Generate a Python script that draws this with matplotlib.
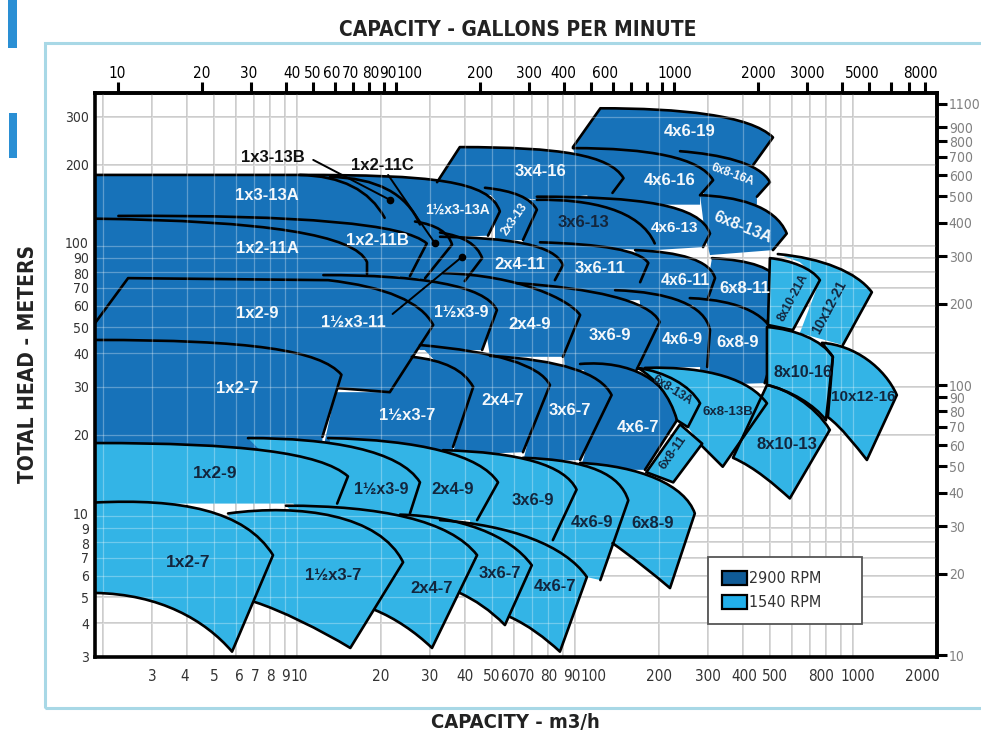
import matplotlib
matplotlib.use("Agg")
import matplotlib.pyplot as plt
from matplotlib.path import Path
from matplotlib.patches import PathPatch, Rectangle, Patch
from matplotlib.ticker import NullLocator

NARROW = ['DejaVu Sans']
BOLD = ['Liberation Sans', 'DejaVu Sans']
plt.rcParams['font.family'] = NARROW
plt.rcParams['font.stretch'] = 'condensed'

# ---------------- axis data ----------------
X_LIM = (1.87, 2000)      # m3/h
Y_LIM = (3, 368)          # metres
GPM_PER_M3H = 4.403
FT_PER_M = 3.281

BOTTOM_TICKS = [3, 4, 5, 6, 7, 8, 9, 10, 20, 30, 40, 50, 60, 70, 80, 90, 100,
                200, 300, 400, 500, 800, 1000, 2000]
LEFT_TICKS = [3, 4, 5, 6, 7, 8, 9, 10, 20, 30, 40, 50, 60, 70, 80, 90, 100, 200, 300]
TOP_TICKS = [10, 20, 30, 40, 50, 60, 70, 80, 90, 100, 200, 300, 400, 500, 600, 700,
             800, 900, 1000, 2000, 3000, 4000, 5000, 6000, 7000, 8000]
TOP_LABELS = ['10', '20', '30', '40', '50', '60', '70', '80', '90', '100', '200', '300',
              '400', '', '600', '', '', '', '1000', '2000', '3000', '', '5000', '', '', '8000']
RIGHT_TICKS = [10, 20, 30, 40, 50, 60, 70, 80, 90, 100, 200, 300, 400, 500, 600, 700,
               800, 900, 1100]
RIGHT_LABELS = [str(v) for v in RIGHT_TICKS]
GRID_Q = [2, 3, 4, 5, 6, 7, 8, 9, 10, 20, 30, 40, 50, 60, 70, 80, 90, 100, 200, 300,
          400, 500, 600, 700, 800, 900, 1000]
GRID_H = [4, 5, 6, 7, 8, 9, 10, 20, 30, 40, 50, 60, 70, 80, 90, 100, 200, 300]

# label nudges (pixels) so crowded condensed labels sit as in the printed chart
BOTTOM_DX = [0, -2, 1, 4, 1, 0, 1, 2, 0, 0, 0, 0, -4, -6, 0, 9, 18, 0, 0, 2, 5, -5, 4, -15]
TOP_DX = [-1, 0, -2, 6, 0, -3, -3, 1, 4, 13, 0, 0, 0, 0, -8, 0, 0, 0, 0, 0, 0, 0, -6, 0, 0, -5]
LEFT_DY = [0, 0, 0, 0, 0, -1.5, -0.5, 2.5, 0, 0, 0, 0, 0, 0, -1.5, 0.5, 3, 0, 0]

# ---------------- 2900 RPM regions (m3/h, m) ----------------
DARK_NAMES = ['4x6-19', '3x4-16', '4x6-16', '6x8-16A', '1x3-13A', '1½x3-13A', '1x3-13B',
              '2x3-13', '3x6-13', '4x6-13', '6x8-13A', '1x2-11A', '1x2-11B', '1x2-11C',
              '1½x3-11', '2x4-11', '3x6-11', '4x6-11', '6x8-11', '1x2-9', '1½x3-9',
              '2x4-9', '3x6-9', '4x6-9', '6x8-9', '1x2-7', '1½x3-7', '2x4-7', '3x6-7', '4x6-7']
DARK_OUTLINES = [
    [('M', 98.0, 232), ('L', 123, 323), ('C', 238, 323, 425, 305, 514, 252), ('L', 436, 199)],
    [('M', 31.8, 172), ('L', 38.4, 232), ('C', 88.0, 232, 133, 217, 149, 178), ('L', 136, 157)],
    [('M', 98.0, 230), ('C', 185, 230, 281, 212, 313, 175), ('L', 281, 154)],
    [('M', 238, 224), ('C', 331, 218, 461, 203, 501, 172), ('L', 450, 152)],
    [('M', 1.87, 183), ('L', 10.2, 183), ('Q', 17.1, 181, 20.6, 127)],
    [('M', 10.2, 183), ('C', 30.0, 183, 49.3, 175, 53.5, 134), ('L', 48.5, 109)],
    [('M', 13.1, 180), ('Q', 23.4, 178, 27.6, 120)],
    [('M', 47.3, 164), ('Q', 67.5, 158, 72.7, 136), ('L', 64.8, 105)],
    [('M', 72.7, 148), ('C', 113, 149, 171, 136, 193, 102)],
    [('M', 72.7, 152), ('C', 171, 152, 281, 142, 305, 111), ('L', 288, 98.9)],
    [('M', 281, 154), ('C', 375, 152, 522, 142, 576, 111), ('L', 514, 96.4)],
    [('M', 1.87, 126), ('Q', 15.5, 123, 17.8, 87.0), ('L', 17.8, 78.6)],
    [('M', 2.27, 129), ('Q', 22.4, 131, 29.2, 102), ('L', 25.4, 77.2)],
    [('M', 26.5, 123), ('Q', 34.5, 118, 36.0, 101), ('L', 28.8, 75.9)],
    [('M', 32.6, 112), ('Q', 43.6, 107, 46.2, 90.0), ('L', 40.0, 74.0)],
    [('M', 32.6, 108), ('C', 58.2, 107, 84.4, 101, 90.2, 84.8), ('L', 84.4, 74.6)],
    [('M', 74.6, 103), ('C', 123, 101.5, 171, 96.4, 183, 86.3), ('L', 171, 73.3)],
    [('M', 164, 96.4), ('C', 238, 94.8, 305, 88.5, 318, 75.9), ('L', 300, 64.0)],
    [('M', 310, 90.0), ('C', 425, 88.5, 522, 82.7, 544, 72.7), ('L', 489, 51.8)],
    [('M', 1.87, 51.7), ('L', 2.46, 75.9), ('L', 12.9, 74.6), ('Q', 26.5, 68.5, 30.8, 50.9),
     ('L', 21.5, 28.7), ('L', 14.0, 29.7)],
    [('M', 12.4, 77.9), ('C', 27.6, 77.9, 47.3, 71.5, 52.2, 57.8), ('L', 46.2, 41.1)],
    [('M', 33.4, 79.2), ('C', 63.2, 77.9, 95.6, 62.9, 104, 55.4), ('L', 90.2, 38.8)],
    [('M', 61.7, 72.7), ('C', 113, 69.7, 185, 62.9, 201, 52.2), ('L', 166, 34.7)],
    [('M', 139, 68.5), ('C', 219, 67.3, 293, 60.3, 305, 48.7), ('L', 298, 35.6)],
    [('M', 258, 64.0), ('C', 391, 62.9, 509, 55.4, 531, 43.7), ('L', 480, 31.0)],
    [('M', 1.87, 44.8), ('C', 6.75, 44.8, 12.1, 41.1, 14.4, 33.3), ('L', 12.3, 19.6)],
    [('M', 25.8, 38.8), ('Q', 38.4, 37.2, 42.9, 30.0), ('L', 36.3, 18.0)],
    [('M', 27.6, 42.9), ('Q', 71.5, 39.4, 81.0, 30.5), ('L', 64.8, 17.2)],
    [('M', 49.3, 39.1), ('Q', 118, 37.2, 135, 28.0), ('L', 104, 16.1)],
    [('M', 104, 36.5), ('C', 157, 37.8, 219, 31.8, 232, 22.6), ('L', 178, 14.8)],
]
DARK_FILL_EXTRA = [
    [(281, 191), (104, 226)],
    [(74.6, 148), (31.8, 161)],
    [(281, 142), (113, 142)],
    [(450, 142), (293, 142), (281, 199)],
    [(20.6, 121), (1.87, 121)],
    [(27.6, 107), (10.2, 121)],
    [],
    [(51.4, 105), (51.4, 148)],
    [(193, 96.4), (64.8, 100), (64.8, 148)],
    [(193, 96.4), (88.0, 114)],
    [(305, 92.4), (293, 109)],
    [(17.8, 73.3), (2.46, 73.3), (1.87, 46.7)],
    [(10.2, 74.6), (2.27, 120)],
    [(23.4, 74.6), (23.4, 125)],
    [(27.6, 71.5), (27.6, 112)],
    [(81.0, 62.9), (34.0, 62.9)],
    [(171, 62.9), (77.8, 62.9)],
    [(281, 60.3), (171, 60.3)],
    [(305, 51.8), (305, 81.3)],
    [(1.87, 28.7)],
    [(27.6, 41.1), (13.1, 62.9)],
    [(49.3, 38.8), (45.4, 68.5)],
    [(91.7, 34.7), (88.0, 62.9)],
    [(171, 35.3), (171, 62.9)],
    [(281, 30.5), (281, 53.1)],
    [(12.3, 17.2), (1.87, 17.2)],
    [(36.3, 17.2), (12.3, 17.2), (13.7, 28.7), (21.5, 28.7)],
    [(36.3, 16.8), (40.0, 28.7)],
    [(64.8, 15.8), (74.6, 29.2)],
    [(104, 14.8), (123, 26.8)],
]

# ---------------- 1540 RPM regions ----------------
LIGHT_NAMES = ['1x2-9', '1½x3-9', '2x4-9', '3x6-9', '4x6-9', '6x8-9', '1x2-7', '1½x3-7',
               '2x4-7', '3x6-7', '4x6-7', '6x8-13A', '6x8-13B', '6x8-11', '8x10-13',
               '8x10-16', '10x12-16', '8x10-21A', '10x12-21']
LIGHT_OUTLINES = [
    [('M', 1.87, 18.6), ('C', 6.21, 18.6, 12.1, 17.2, 15.2, 14.0), ('L', 13.9, 11.1)],
    [('M', 6.64, 19.4), ('C', 13.1, 19.4, 23.4, 17.5, 27.6, 13.3), ('L', 25.4, 10.2)],
    [('M', 12.9, 19.4), ('C', 27.6, 19.1, 45.4, 16.8, 52.7, 13.3), ('L', 44.3, 9.64)],
    [('M', 33.4, 17.5), ('C', 63.2, 17.2, 91.7, 15.4, 101, 12.5), ('L', 83.0, 8.13)],
    [('M', 64.8, 16.4), ('C', 113, 16.1, 145, 14.2, 155, 11.4), ('L', 123, 5.78)],
    [('M', 104, 15.7), ('C', 171, 15.3, 248, 13.0, 269, 10.2), ('L', 219, 5.40),
     ('C', 193, 6.03, 157, 7.15, 136, 7.92)],
    [('M', 1.87, 11.2), ('C', 3.78, 11.6, 6.47, 10.5, 8.17, 7.15), ('L', 5.82, 3.14),
     ('C', 4.65, 4.11, 3.20, 5.13, 1.87, 5.18)],
    [('M', 5.63, 10.2), ('C', 10.2, 11.1, 19.8, 10.1, 24.0, 6.73), ('L', 15.5, 3.24),
     ('C', 12.1, 3.78, 8.66, 4.48, 7.04, 4.79)],
    [('M', 9.10, 10.9), ('C', 19.8, 10.9, 35.4, 9.64, 44.3, 7.15), ('L', 30.5, 3.24),
     ('C', 26.5, 3.72, 22.4, 4.18, 19.0, 4.48)],
    [('M', 23.4, 10.1), ('C', 38.4, 9.97, 58.2, 8.48, 69.7, 6.56), ('L', 55.8, 3.94),
     ('C', 49.3, 4.48, 43.6, 4.87, 38.4, 5.18)],
    [('M', 32.6, 9.64), ('C', 58.2, 9.24, 91.7, 7.79, 110, 5.93), ('L', 88.0, 3.14),
     ('C', 77.8, 3.53, 67.5, 3.94, 58.2, 4.22)],
    [('M', 168, 35.3), ('C', 210, 34.1, 258, 30.5, 281, 26.1), ('L', 254, 21.3),
     ('L', 232, 22.6), ('C', 219, 28.0, 193, 32.3, 168, 35.3)],
    [('M', 178, 35.3), ('C', 305, 35.9, 425, 31.8, 489, 26.1), ('L', 339, 15.2), ('L', 286, 18.1)],
    [('M', 238, 21.8), ('L', 286, 18.5), ('L', 225, 13.3), ('L', 180, 14.5), ('Z',)],
    [('M', 369, 16.4), ('L', 489, 30.5), ('C', 567, 29.7, 728, 25.7, 823, 20.8), ('L', 591, 11.6),
     ('C', 522, 13.0, 443, 15.1, 369, 16.4), ('Z',)],
    [('M', 489, 50.0), ('C', 616, 49.1, 771, 44.8, 844, 38.8), ('L', 797, 22.6),
     ('C', 728, 25.7, 591, 29.2, 489, 30.5), ('Z',)],
    [('M', 771, 43.7), ('C', 1013, 42.9, 1299, 35.3, 1434, 28.0), ('L', 1119, 16.1),
     ('C', 1013, 18.3, 909, 21.2, 810, 23.2), ('L', 844, 38.8), ('Z',)],
    [('M', 493, 50.9), ('L', 501, 90.0), ('C', 591, 88.5, 710, 82.7, 758, 74.6), ('L', 606, 48.7),
     ('Z',)],
    [('M', 535, 93.2), ('C', 771, 90.0, 1030, 79.9, 1166, 67.3), ('L', 917, 42.9)],
]
LIGHT_FILL_EXTRA = [
    [(1.87, 11.1)],
    [(10.2, 10.2), (7.33, 17.5)],
    [(23.4, 9.64), (13.1, 10.5), (13.1, 19.0)],
    [(41.8, 8.13), (41.8, 14.8)],
    [(110, 5.93), (93.3, 7.03), (59.7, 8.63)],
    [(123, 11.4)],
    [],
    [(6.21, 6.85)],
    [(14.2, 6.85)],
    [(30.0, 8.13)],
    [(53.5, 6.85)],
    [],
    [(254, 21.3), (281, 26.1), (213, 32.6)],
    [],
    [],
    [],
    [],
    [],
    [(642, 47.5), (758, 74.6), (642, 87.0)],
]

# ---------------- labels ----------------
DARK_LABEL_TEXT = ['4x6-19', '3x4-16', '4x6-16', '6x8-16A', '1x3-13A', '1½x3-13A', '2x3-13',
                   '4x6-13', '6x8-13A', '1x2-11A', '1x2-11B', '2x4-11', '3x6-11', '4x6-11',
                   '6x8-11', '1x2-9', '1½x3-11', '1½x3-9', '2x4-9', '3x6-9', '4x6-9', '6x8-9',
                   '1x2-7', '1½x3-7', '2x4-7', '3x6-7', '4x6-7']
DARK_LABEL_Q = [258, 75.2, 219, 369, 7.77, 37.8, 60.7, 228, 401, 7.77, 19.4, 63.2, 123, 248,
                408, 7.15, 15.9, 39.0, 68.6, 133, 242, 385, 6.06, 24.8, 54.8, 95.6, 168]
DARK_LABEL_H = [266, 188, 175, 183, 153, 136, 125, 116, 117, 98.1, 105, 85.5, 82.7, 74.6,
                69.7, 56.3, 52.2, 56.8, 50.9, 46.7, 44.8, 43.7, 29.7, 23.6, 26.8, 24.6, 21.2]
DARK_LABEL_ROT = [0, 0, 0, -20, 0, 0, 55, 0, -22, 0, 0, 0, 0, 0,
                  0, 0, 0, 0, 0, 0, 0, 0, 0, 0, 0, 0, 0]
DARK_LABEL_SIZE = [12, 12, 12, 8.5, 12, 10, 8.5, 11, 11.5, 12, 12, 12, 12, 11.5,
                   12, 12, 12, 11.5, 12, 12, 11.5, 12, 12, 12, 12, 12, 12]

NAVY_LABEL_TEXT = ['3x6-13', '1x2-9', '1½x3-9', '2x4-9', '3x6-9', '4x6-9', '6x8-9', '1x2-7',
                   '1½x3-7', '2x4-7', '3x6-7', '4x6-7', '6x8-13A', '6x8-13B', '6x8-11',
                   '8x10-13', '8x10-16', '10x12-16', '8x10-21A', '10x12-21']
NAVY_LABEL_Q = [107, 5.06, 20.1, 36.3, 70.3, 115, 190, 4.04, 13.4, 30.5, 53.5, 84.4, 223, 354,
                225, 576, 658, 1083, 606, 823]
NAVY_LABEL_H = [122, 14.3, 12.5, 12.5, 11.4, 9.48, 9.40, 6.73, 6.03, 5.40, 6.13, 5.45, 29.2,
                24.2, 17.1, 18.3, 33.8, 27.5, 64.0, 59.3]
NAVY_LABEL_ROT = [0, 0, 0, 0, 0, 0, 0, 0, 0, 0, 0, 0, -32, 0, 55, 0, 0, 0, 62, 62]
NAVY_LABEL_SIZE = [12, 12.5, 11.5, 12, 12, 12, 12, 12.5, 12, 12, 12, 12, 8.5, 9.5, 9,
                   12, 11.5, 11, 8.5, 10]

CALLOUT_TEXT = ['1x3-13B', '1x2-11C']
CALLOUT_Q = [8.17, 20.3]
CALLOUT_H = [213, 199]
POINTERS = [
    [(11.4, 208), (21.5, 148)],
    [(21.2, 183), (27.6, 123), (31.3, 102)],
    [(22.0, 55.9), (39.0, 90.8)],
]
LEGEND_LABELS = ['2900 RPM', '1540 RPM']

DARK = '#1772b9'
LIGHT = '#33b4e6'
NAVY = '#13263d'
PX = 0.72  # points per pixel at 100 dpi


def make_path(tokens, extra=None):
    verts, codes = [], []
    closed = False
    for t in tokens:
        k = t[0]
        if k == 'M':
            verts.append(t[1:3]); codes.append(Path.MOVETO)
        elif k == 'L':
            verts.append(t[1:3]); codes.append(Path.LINETO)
        elif k == 'Q':
            verts += [t[1:3], t[3:5]]; codes += [Path.CURVE3] * 2
        elif k == 'C':
            verts += [t[1:3], t[3:5], t[5:7]]; codes += [Path.CURVE4] * 3
        elif k == 'Z':
            closed = True
    if extra is not None:
        for p in extra:
            verts.append(p); codes.append(Path.LINETO)
        closed = True
    if closed:
        verts.append(verts[0]); codes.append(Path.CLOSEPOLY)
    return Path(verts, codes)


fig = plt.figure(figsize=(9.81, 7.36), dpi=100)
ax = fig.add_axes([95 / 981, 79 / 736, 842 / 981, 564 / 736])
ax.set_xscale('log')
ax.set_yscale('log')
ax.set_xlim(*X_LIM)
ax.set_ylim(*Y_LIM)

# grid underneath
ax.vlines(GRID_Q, *Y_LIM, colors='#bcbcbc', lw=1.1, zorder=0.5)
ax.hlines(GRID_H, *X_LIM, colors='#bcbcbc', lw=1.1, zorder=0.5)

# 2900 rpm group
for toks, extra in zip(DARK_OUTLINES, DARK_FILL_EXTRA):
    ax.add_patch(PathPatch(make_path(toks, extra), facecolor=DARK, edgecolor='none',
                           lw=0, zorder=1))
for toks in DARK_OUTLINES:
    ax.add_patch(PathPatch(make_path(toks), facecolor='none', edgecolor='black', lw=1.9,
                           joinstyle='round', capstyle='round', zorder=2))

# 1540 rpm group
for toks, extra in zip(LIGHT_OUTLINES, LIGHT_FILL_EXTRA):
    ax.add_patch(PathPatch(make_path(toks, extra), facecolor=LIGHT, edgecolor='none',
                           lw=0, zorder=3))

# faint light grid seen through the coloured areas
ax.vlines(GRID_Q, *Y_LIM, colors='white', lw=0.9, alpha=0.3, zorder=3.5)
ax.hlines(GRID_H, *X_LIM, colors='white', lw=0.9, alpha=0.3, zorder=3.5)

for toks in LIGHT_OUTLINES:
    ax.add_patch(PathPatch(make_path(toks), facecolor='none', edgecolor='black', lw=1.9,
                           joinstyle='round', capstyle='round', zorder=4))

# pointers
for pts in POINTERS:
    ax.plot([p[0] for p in pts], [p[1] for p in pts], color='black', lw=1.4, zorder=5,
            solid_capstyle='round')
    ax.plot([pts[-1][0]], [pts[-1][1]], 'o', color='black', ms=4.5, zorder=5)

# region labels
for t, q, h, r, s in zip(DARK_LABEL_TEXT, DARK_LABEL_Q, DARK_LABEL_H, DARK_LABEL_ROT,
                         DARK_LABEL_SIZE):
    ax.text(q, h, t, color='#f4f8fb', fontsize=s, rotation=r, ha='center', va='center',
            fontweight='bold', family=BOLD, fontstretch='normal', zorder=6)
for t, q, h, r, s in zip(NAVY_LABEL_TEXT, NAVY_LABEL_Q, NAVY_LABEL_H, NAVY_LABEL_ROT,
                         NAVY_LABEL_SIZE):
    ax.text(q, h, t, color=NAVY, fontsize=s, rotation=r, ha='center', va='center',
            fontweight='bold', family=BOLD, fontstretch='normal', zorder=6)
for t, q, h in zip(CALLOUT_TEXT, CALLOUT_Q, CALLOUT_H):
    ax.text(q, h, t, color='#111111', fontsize=12, ha='center', va='center',
            fontweight='bold', family=BOLD, fontstretch='normal', zorder=6)

# bottom and left axes: tick positions from the axes, labels placed as printed
ax.set_xticks(BOTTOM_TICKS, [''] * len(BOTTOM_TICKS))
ax.set_yticks(LEFT_TICKS, [''] * len(LEFT_TICKS))
ax.xaxis.set_minor_locator(NullLocator())
ax.yaxis.set_minor_locator(NullLocator())
ax.tick_params(axis='both', length=0)
for v, dx in zip(BOTTOM_TICKS, BOTTOM_DX):
    ax.annotate(str(v), xy=(v, 0), xycoords=('data', 'axes fraction'),
                xytext=(dx * PX, -12 * PX), textcoords='offset points', ha='center',
                va='top', fontsize=11, color='#333333', annotation_clip=False)
for v, dy in zip(LEFT_TICKS, LEFT_DY):
    ax.annotate(str(v), xy=(0, v), xycoords=('axes fraction', 'data'),
                xytext=(-6 * PX, dy * PX), textcoords='offset points', ha='right',
                va='center_baseline', fontsize=10, color='#333333', annotation_clip=False)

# top axis (US gpm)
top = ax.secondary_xaxis('top', functions=(lambda q: q * GPM_PER_M3H,
                                           lambda g: g / GPM_PER_M3H))
top.set_xticks(TOP_TICKS, [''] * len(TOP_TICKS))
top.xaxis.set_minor_locator(NullLocator())
top.tick_params(direction='out', length=8, width=2.2, colors='black')
top.spines['top'].set_linewidth(2.6)
for g, lab, dx in zip(TOP_TICKS, TOP_LABELS, TOP_DX):
    if lab:
        ax.annotate(lab, xy=(g / GPM_PER_M3H, 1), xycoords=('data', 'axes fraction'),
                    xytext=(dx * PX, 12 * PX), textcoords='offset points', ha='center',
                    va='bottom', fontsize=11, color='black', annotation_clip=False)

# right axis (feet)
right = ax.secondary_yaxis('right', functions=(lambda m: m * FT_PER_M,
                                               lambda f: f / FT_PER_M))
right.set_yticks(RIGHT_TICKS, RIGHT_LABELS)
right.yaxis.set_minor_locator(NullLocator())
right.tick_params(direction='out', length=7, width=2.2, labelsize=10, pad=1.5,
                  color='black', labelcolor='#808080')
right.spines['right'].set_linewidth(2.6)
for lab in right.get_yticklabels():
    lab.set_fontstretch('condensed')

for s in ax.spines.values():
    s.set_linewidth(2.6)
    s.set_zorder(10)

# legend
handles = [Patch(facecolor='#0f5b97', edgecolor='black', lw=1.6, label=LEGEND_LABELS[0]),
           Patch(facecolor='#22afea', edgecolor='black', lw=1.6, label=LEGEND_LABELS[1])]
leg = ax.legend(handles=handles, loc='upper left', bbox_to_anchor=(0.728, 0.062, 0.183, 0.115),
                mode='expand', fancybox=False, edgecolor='#555555', framealpha=1,
                fontsize=11.5, handlelength=1.6, handleheight=0.95, borderpad=0.85,
                labelspacing=0.55, handletextpad=0.1, borderaxespad=0)
leg.get_frame().set_linewidth(1.3)
for txt in leg.get_texts():
    txt.set_color('#333333')
leg.set_zorder(8)

# titles and frame
fig.text(0.528, 0.959, 'CAPACITY - GALLONS PER MINUTE', ha='center', va='center',
         fontsize=15, fontweight='bold', color='#222222')
fig.text(0.525, 0.019, 'CAPACITY - m3/h', ha='center', va='center', fontsize=14.5,
         fontweight='bold', color='#222222')
fig.text(0.0285, 0.506, 'TOTAL HEAD - METERS', ha='center', va='center', rotation=90,
         fontsize=15, fontweight='bold', color='#222222')
fig.patches.append(Rectangle((45 / 981, 28 / 736), 950 / 981, 665 / 736, fill=False,
                             edgecolor='#a8d8e6', lw=2.2, transform=fig.transFigure))
fig.patches.append(Rectangle((8 / 981, 1 - 48 / 736), 9 / 981, 48 / 736, facecolor='#2a8fd4',
                             edgecolor='none', transform=fig.transFigure))
fig.patches.append(Rectangle((9 / 981, 1 - 158 / 736), 8 / 981, 45 / 736, facecolor='#2a8fd4',
                             edgecolor='none', transform=fig.transFigure))

fig.savefig('out.png', dpi=100, facecolor='white')
